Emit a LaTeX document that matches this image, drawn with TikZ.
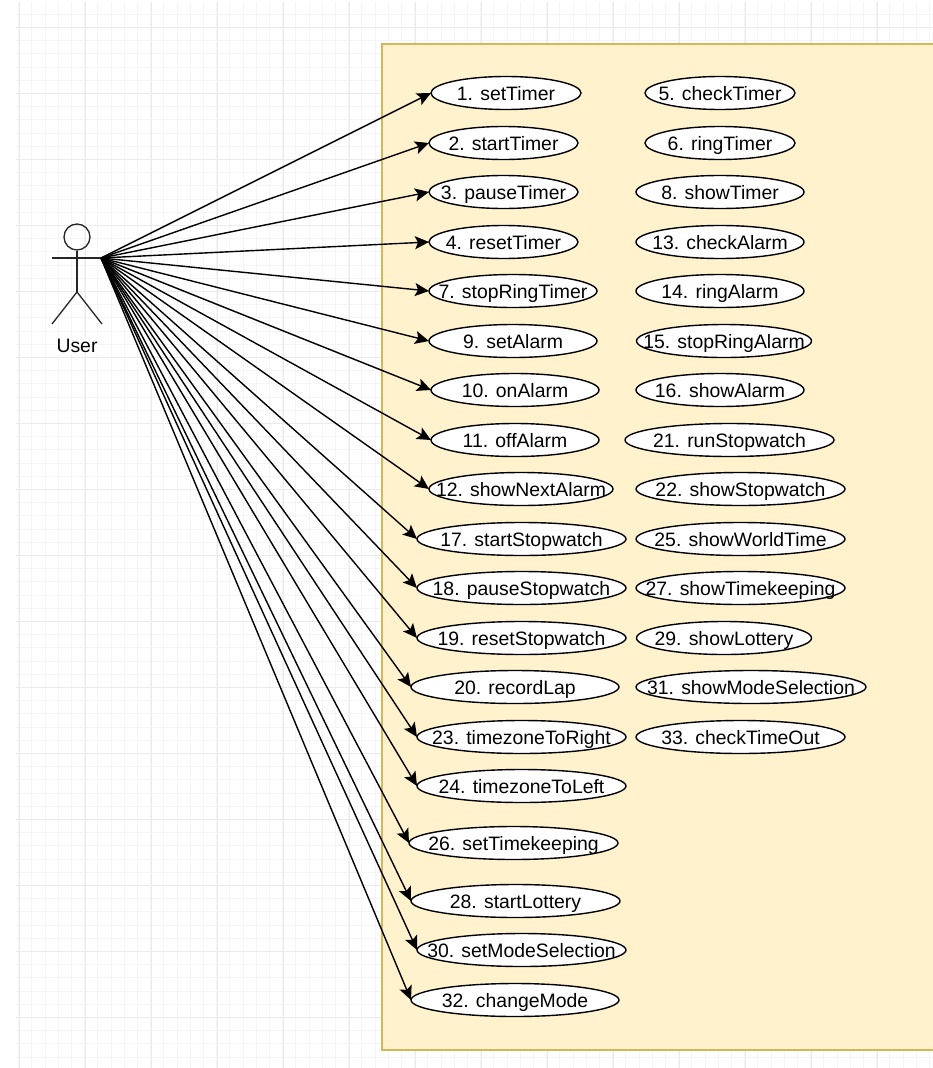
\documentclass[tikz,border=0pt]{standalone}
\usepackage{fontspec}
\setmainfont{Liberation Sans}
\usetikzlibrary{arrows.meta,shapes.geometric}
\definecolor{boxfill}{HTML}{FFF2CC}
\definecolor{boxline}{HTML}{D6B656}
\newcommand{\uclabel}[1]{\smash{\makebox[0pt]{\raisebox{-7.2pt}{#1}}}}
\tikzset{
    usecase/.style={ellipse, draw, fill=white, line width=1.4pt, inner sep=0pt, outer sep=0pt,
        minimum height=33pt, minimum width=#1},
    actorline/.style={line width=1.3pt, black!85},
    assoc/.style={line width=1.4pt, -{Stealth[length=14pt,width=13pt,inset=3pt]}},
    gridminor/.style={line width=0.5pt, black!4},
    gridmajor/.style={line width=1pt, black!8}
}
\begin{document}
\begin{tikzpicture}[x=1pt,y=-1pt,font=\fontsize{19.4}{22}\selectfont]
        \useasboundingbox (0,0) rectangle (933,1068);
        \fill[white] (0,0) rectangle (933,1068);

        % page grid
        \foreach \i in {0,...,69} {
            \draw[gridminor] (18.5+13.2*\i,2) -- (18.5+13.2*\i,1068);
        }
        \foreach \i in {0,...,80} {
            \draw[gridminor] (16,14+13.2*\i) -- (933,14+13.2*\i);
        }
        \foreach \i in {0,...,13} {
            \draw[gridmajor] (19+66*\i,2) -- (19+66*\i,1068);
        }
        \foreach \i in {0,...,15} {
            \draw[gridmajor] (16,27+66*\i) -- (933,27+66*\i);
        }

        % system box
        \draw[fill=boxfill, draw=boxline, line width=1.4pt] (382,44) rectangle (945,1050);

        % actor
        \node[circle, draw=black!85, line width=1.3pt, minimum size=26pt, inner sep=0pt] (head) at (77,237) {};
        \coordinate (neck) at (77,258);
        \coordinate (armL) at (52,258);
        \coordinate (hand) at (101,258);
        \coordinate (hip) at (77,292);
        \coordinate (legL) at (52,324);
        \coordinate (legR) at (102,324);
        \draw[actorline] (head) -- (hip);
        \draw[actorline] (armL) -- (hand);
        \draw[actorline] (legL) -- (hip) -- (legR);
        \node[fill=white, inner sep=1pt] (user) at (77,346) {User};

        % left column
        \node[usecase=150pt] (setTimer) at (506,93) {\uclabel{1. setTimer}};
        \node[usecase=149pt] (startTimer) at (503.5,143) {\uclabel{2. startTimer}};
        \node[usecase=149pt] (pauseTimer) at (503.5,192) {\uclabel{3. pauseTimer}};
        \node[usecase=149pt] (resetTimer) at (503.5,242) {\uclabel{4. resetTimer}};
        \node[usecase=168pt] (stopRingTimer) at (513,291) {\uclabel{7. stopRingTimer}};
        \node[usecase=168pt] (setAlarm) at (513,341) {\uclabel{9. setAlarm}};
        \node[usecase=168pt] (onAlarm) at (515,390) {\uclabel{10. onAlarm}};
        \node[usecase=168pt] (offAlarm) at (515,440) {\uclabel{11. offAlarm}};
        \node[usecase=184pt] (showNextAlarm) at (521,489) {\uclabel{12. showNextAlarm}};
        \node[usecase=209pt] (startStopwatch) at (521.5,539) {\uclabel{17. startStopwatch}};
        \node[usecase=209pt] (pauseStopwatch) at (521.5,588) {\uclabel{18. pauseStopwatch}};
        \node[usecase=209pt] (resetStopwatch) at (521.5,638) {\uclabel{19. resetStopwatch}};
        \node[usecase=208pt] (recordLap) at (515,687) {\uclabel{20. recordLap}};
        \node[usecase=209pt] (timezoneToRight) at (521.5,737) {\uclabel{23. timezoneToRight}};
        \node[usecase=209pt] (timezoneToLeft) at (521.5,786) {\uclabel{24. timezoneToLeft}};
        \node[usecase=209pt] (setTimekeeping) at (513.5,843) {\uclabel{26. setTimekeeping}};
        \node[usecase=209pt] (startLottery) at (515.5,901) {\uclabel{28. startLottery}};
        \node[usecase=209pt] (setModeSelection) at (521.5,950) {\uclabel{30. setModeSelection}};
        \node[usecase=208pt] (changeMode) at (515,1000) {\uclabel{32. changeMode}};

        % right column
        \node[usecase=150pt] (checkTimer) at (720,93) {\uclabel{5. checkTimer}};
        \node[usecase=150pt] (ringTimer) at (720,143) {\uclabel{6. ringTimer}};
        \node[usecase=168pt] (showTimer) at (720,192) {\uclabel{8. showTimer}};
        \node[usecase=168pt] (checkAlarm) at (720,242) {\uclabel{13. checkAlarm}};
        \node[usecase=168pt] (ringAlarm) at (720,291) {\uclabel{14. ringAlarm}};
        \node[usecase=175pt] (stopRingAlarm) at (724,341) {\uclabel{15. stopRingAlarm}};
        \node[usecase=168pt] (showAlarm) at (720,390) {\uclabel{16. showAlarm}};
        \node[usecase=209pt] (runStopwatch) at (729.5,440) {\uclabel{21. runStopwatch}};
        \node[usecase=209pt] (showStopwatch) at (740.5,489) {\uclabel{22. showStopwatch}};
        \node[usecase=209pt] (showWorldTime) at (740.5,539) {\uclabel{25. showWorldTime}};
        \node[usecase=209pt] (showTimekeeping) at (740.5,588) {\uclabel{27. showTimekeeping}};
        \node[usecase=175pt] (showLottery) at (724,638) {\uclabel{29. showLottery}};
        \node[usecase=230pt] (showModeSelection) at (751,687) {\uclabel{31. showModeSelection}};
        \node[usecase=209pt] (checkTimeOut) at (740.5,737) {\uclabel{33. checkTimeOut}};

        % associations
        \draw[assoc] (hand) -- (setTimer.west);
        \draw[assoc] (hand) -- (startTimer.west);
        \draw[assoc] (hand) -- (pauseTimer.west);
        \draw[assoc] (hand) -- (resetTimer.west);
        \draw[assoc] (hand) -- (stopRingTimer.west);
        \draw[assoc] (hand) -- (setAlarm.west);
        \draw[assoc] (hand) -- (onAlarm.west);
        \draw[assoc] (hand) -- (offAlarm.west);
        \draw[assoc] (hand) -- (showNextAlarm.west);
        \draw[assoc] (hand) -- (startStopwatch.west);
        \draw[assoc] (hand) -- (pauseStopwatch.west);
        \draw[assoc] (hand) -- (resetStopwatch.west);
        \draw[assoc] (hand) -- (recordLap.west);
        \draw[assoc] (hand) -- (timezoneToRight.west);
        \draw[assoc] (hand) -- (timezoneToLeft.west);
        \draw[assoc] (hand) -- (setTimekeeping.west);
        \draw[assoc] (hand) -- (startLottery.west);
        \draw[assoc] (hand) -- (setModeSelection.west);
        \draw[assoc] (hand) -- (changeMode.west);

    \end{tikzpicture}
\end{document}
